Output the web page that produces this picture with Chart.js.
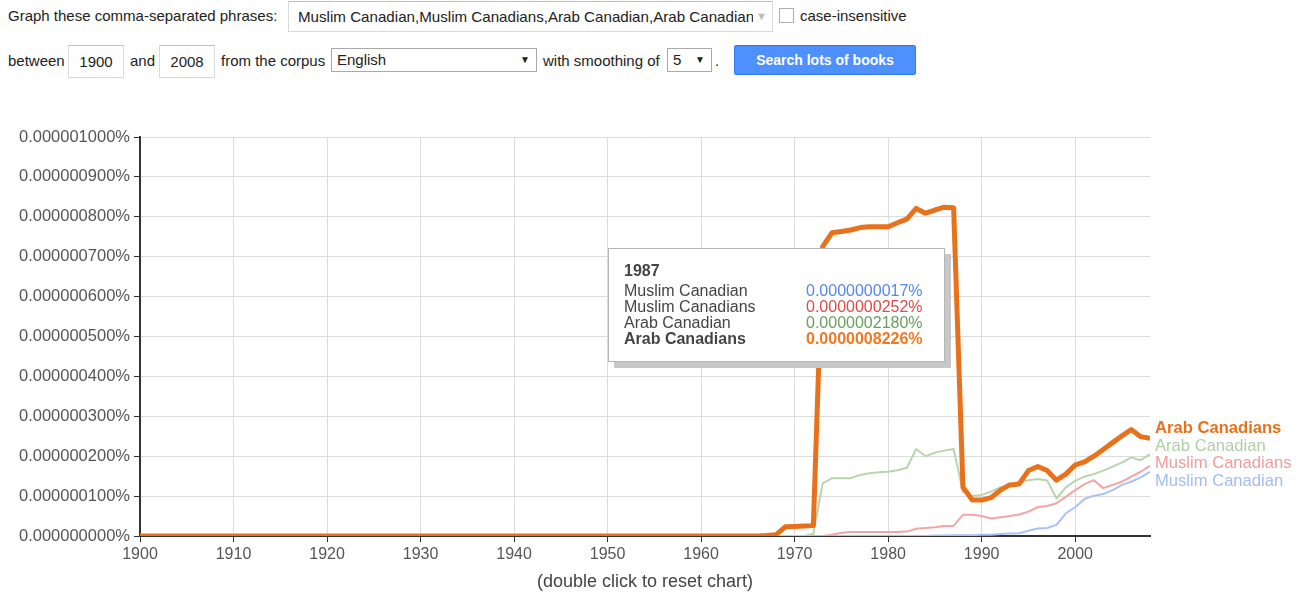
<!DOCTYPE html>
<html><head><meta charset="utf-8">
<script src="https://cdn.jsdelivr.net/npm/chart.js@4.4.0/dist/chart.umd.min.js"></script>
<style>
body{margin:0;width:1301px;height:593px;overflow:hidden;background:#fff;font-family:"Liberation Sans",Arial,sans-serif;color:#222;position:relative}
.t{position:absolute;font-size:15px;line-height:18px;white-space:nowrap}
.box{position:absolute;border:1px solid #d9d9d9;border-top-color:#c0c0c0;background:#fff;box-sizing:border-box;font-size:15px;white-space:nowrap;overflow:hidden}
.sel{position:absolute;border:1px solid #a9a9a9;background:#fff;box-sizing:border-box;font-size:15px;line-height:22px;padding-left:5px;white-space:nowrap}
.sel .ar{position:absolute;right:6px;top:0;font-size:10px}
#btn{position:absolute;left:734px;top:45px;width:182px;height:30px;background:#4d90fe;border:1px solid #3079ed;box-sizing:border-box;border-radius:2px;color:#fff;font-weight:bold;font-size:14px;line-height:28px;text-align:center}
#chartWrap{position:absolute;left:0;top:100px;width:1301px;height:493px}
#tip{position:absolute;left:608px;top:248px;width:337px;height:114px;background:#fff;border:1px solid #b5b5b5;box-sizing:border-box;box-shadow:6px 6px 0 #c8c8c8;font-size:16px;color:#444}
#tip .r{position:absolute;left:15px;white-space:nowrap;line-height:16px}
#tip .v{position:absolute;left:197px;white-space:nowrap;line-height:16px}
#cap{position:absolute;left:395px;width:500px;top:571px;text-align:center;font-size:18px;color:#444}
</style></head>
<body>
<div class="t" style="left:8px;top:7px">Graph these comma-separated phrases:</div>
<div class="box" style="left:288px;top:1px;width:485px;height:31px;line-height:29px;padding-left:9px">
  <span style="display:inline-block;width:455px;overflow:hidden;vertical-align:top;font-size:15.15px">Muslim Canadian,Muslim Canadians,Arab Canadian,Arab Canadians</span><span style="color:#bbb;font-size:11px;vertical-align:top;margin-left:3px">&#9660;</span>
</div>
<div style="position:absolute;left:779px;top:8px;width:15px;height:15px;border:1px solid #b0b0b0;box-sizing:border-box;background:#fff"></div>
<div class="t" style="left:800px;top:7px">case-insensitive</div>

<div class="t" style="left:8px;top:52px">between</div>
<div class="box" style="left:68px;top:45px;width:56px;height:33px;line-height:31px;text-align:center">1900</div>
<div class="t" style="left:130px;top:52px">and</div>
<div class="box" style="left:159px;top:45px;width:56px;height:33px;line-height:31px;text-align:center">2008</div>
<div class="t" style="left:221px;top:52px">from the corpus</div>
<div class="sel" style="left:331px;top:48px;width:206px;height:24px">English<span class="ar">&#9660;</span></div>
<div class="t" style="left:543px;top:52px">with smoothing of</div>
<div class="sel" style="left:667px;top:48px;width:45px;height:24px">5<span class="ar">&#9660;</span></div>
<div class="t" style="left:715px;top:52px">.</div>
<div id="btn">Search lots of books</div>

<div id="chartWrap"><canvas id="c"></canvas></div>
<div id="tip"></div>
<div id="cap">(double click to reset chart)</div>

<script>
// Values in units of 0.000000001 % (1e-9 percent)
const years = [
1900,1901,1902,1903,1904,1905,1906,1907,1908,1909,
1910,1911,1912,1913,1914,1915,1916,1917,1918,1919,
1920,1921,1922,1923,1924,1925,1926,1927,1928,1929,
1930,1931,1932,1933,1934,1935,1936,1937,1938,1939,
1940,1941,1942,1943,1944,1945,1946,1947,1948,1949,
1950,1951,1952,1953,1954,1955,1956,1957,1958,1959,
1960,1961,1962,1963,1964,1965,1966,1967,1968,1969,
1970,1971,1972,1973,1974,1975,1976,1977,1978,1979,
1980,1981,1982,1983,1984,1985,1986,1987,1988,1989,
1990,1991,1992,1993,1994,1995,1996,1997,1998,1999,
2000,2001,2002,2003,2004,2005,2006,2007,2008];

const muslimCanadian = [
0,0,0,0,0,0,0,0,0,0,
0,0,0,0,0,0,0,0,0,0,
0,0,0,0,0,0,0,0,0,0,
0,0,0,0,0,0,0,0,0,0,
0,0,0,0,0,0,0,0,0,0,
0,0,0,0,0,0,0,0,0,0,
0,0,0,0,0,0,0,0,0,0,
0,0,0,0,0,0,0,0,0,0,
0,0,0,0,0,1,1.5,1.7,2,2,
3,3,5,6,7,13,19,20,28,57,
72,93,101,105,115,128,136,147,161];

const muslimCanadians = [
0,0,0,0,0,0,0,0,0,0,
0,0,0,0,0,0,0,0,0,0,
0,0,0,0,0,0,0,0,0,0,
0,0,0,0,0,0,0,0,0,0,
0,0,0,0,0,0,0,0,0,0,
0,0,0,0,0,0,0,0,0,0,
0,0,0,0,0,0,0,0,0,0,
0,0,0,0,3,8,10,10,10,10,
10,10,11,18,20,22,25,25.2,53,53,
50,44,47,50,54,61,72,75,82,98,
115,130,140,120,128,136,149,161,176];

const arabCanadian = [
0,0,0,0,0,0,0,0,0,0,
0,0,0,0,0,0,0,0,0,0,
0,0,0,0,0,0,0,0,0,0,
0,0,0,0,0,0,0,0,0,0,
0,0,0,0,0,0,0,0,0,0,
0,0,0,0,0,0,0,0,0,0,
0,0,0,0,0,0,0,0,0,0,
0,0,5,132,145,145,145,153,157,160,
161,165,171,218,200,209,214,218,111,100,
103,111,122,130,136,140,143,139,94,122,
138,149,155,164,174,184,197,190,205];

const arabCanadians = [
0,0,0,0,0,0,0,0,0,0,
0,0,0,0,0,0,0,0,0,0,
0,0,0,0,0,0,0,0,0,0,
0,0,0,0,0,0,0,0,0,0,
0,0,0,0,0,0,0,0,0,0,
0,0,0,0,0,0,0,0,0,0,
0,0,0,0,0,0,0,1,3,23,
24,25,26,725,760,763,767,773,775,775,
775,785,794,821,809,817,824,822.6,122,90,
90,96,115,128,130,164,174,164,140,155,
178,186,200,217,234,251,267,249,245];

const seriesNames = ["Muslim Canadian","Muslim Canadians","Arab Canadian","Arab Canadians"];
const yTicksMax = 1000, yTickStep = 100;
const xTickStep = 10;
const tooltipYear = 1987;

const lineColors = ['#a9c1f3','#f3a5a5','#b9d5ae','#e8721c'];
const labelColors = ['#a3bdf2','#f19c9c','#b0cfa4','#e8721c'];
const valueColors = ['#5587ec','#e04a4a','#6a9f5e','#f07820'];
const widths = [2,2,2,5];
const bold = [false,false,false,true];
const allValues = [muslimCanadian, muslimCanadians, arabCanadian, arabCanadians];

const datasets = allValues.map((vals,i)=>({
  label: seriesNames[i],
  data: years.map((y,k)=>({x:y, y:vals[k]})),
  borderColor: lineColors[i],
  borderWidth: widths[i],
  pointRadius: 0,
  tension: 0,
  fill: false,
  borderJoinStyle: 'round',
  order: 3 - i,
  labelColor: labelColors[i],
  labelBold: bold[i]
}));

const endLabels = {
  id: 'endLabels',
  afterDatasetsDraw(chart){
    const ctx = chart.ctx, area = chart.chartArea;
    const items = chart.data.datasets.map((ds,i)=>{
      const meta = chart.getDatasetMeta(i);
      const pt = meta.data[meta.data.length-1];
      return {ds, y: pt.y};
    });
    items.sort((a,b)=>a.y-b.y);
    const gap = 17.8;
    const mean = items.reduce((s,it)=>s+it.y,0)/items.length;
    items.forEach((it,k)=>{
      const y = mean + (k-(items.length-1)/2)*gap - 2.5;
      ctx.save();
      ctx.font = (it.ds.labelBold?'bold ':'') + '16.6px "Liberation Sans", Arial, sans-serif';
      ctx.fillStyle = it.ds.labelColor;
      ctx.textBaseline = 'middle';
      ctx.textAlign = 'left';
      ctx.fillText(it.ds.label, area.right + 5, y);
      ctx.restore();
    });
  }
};

const tickFont = {family:'"Liberation Sans", Arial, sans-serif', size:16};
const yTickFont = {family:'"Liberation Sans", Arial, sans-serif', size:16.5};

new Chart(document.getElementById('c'), {
  type: 'line',
  data: {datasets},
  options: {
    responsive: true,
    maintainAspectRatio: false,
    animation: false,
    events: [],
    layout: {padding:{top:37,right:151,left:0,bottom:0}},
    plugins: {legend:{display:false}, tooltip:{enabled:false}},
    scales: {
      x: {
        type: 'linear', min: 1900, max: 2008,
        afterFit(s){ s.height = 57; },
        grid: {color:'#dcdcdc', tickColor:'#333', tickLength:6, lineWidth:1},
        border: {color:'#333', width:2},
        ticks: {stepSize:xTickStep, includeBounds:false, font:tickFont, color:'#555', padding:3,
                maxRotation:0, autoSkip:false, callback:v=>String(v)}
      },
      y: {
        min: 0, max: yTicksMax,
        afterFit(s){ s.width = 140; },
        grid: {color:'#dcdcdc', tickColor:'#333', tickLength:6, lineWidth:1},
        border: {color:'#333', width:2},
        ticks: {stepSize:yTickStep, font:yTickFont, color:'#555', padding:4,
                callback:v=>(v/1e9).toFixed(9)+'%'}
      }
    }
  },
  plugins: [endLabels]
});

// tooltip box built from the data
const tip = document.getElementById('tip');
const ti = years.indexOf(tooltipYear);
let html = '<div class="r" style="top:14px;font-weight:bold">'+tooltipYear+'</div>';
const rowTops = [34,50,66,82];
seriesNames.forEach((n,i)=>{
  const v = (allValues[i][ti]/1e9).toFixed(10)+'%';
  const fw = bold[i] ? 'font-weight:bold;' : '';
  html += '<div class="r" style="top:'+rowTops[i]+'px;'+fw+'">'+n+'</div>';
  html += '<div class="v" style="top:'+rowTops[i]+'px;'+fw+'color:'+valueColors[i]+'">'+v+'</div>';
});
tip.innerHTML = html;
</script>
</body></html>
